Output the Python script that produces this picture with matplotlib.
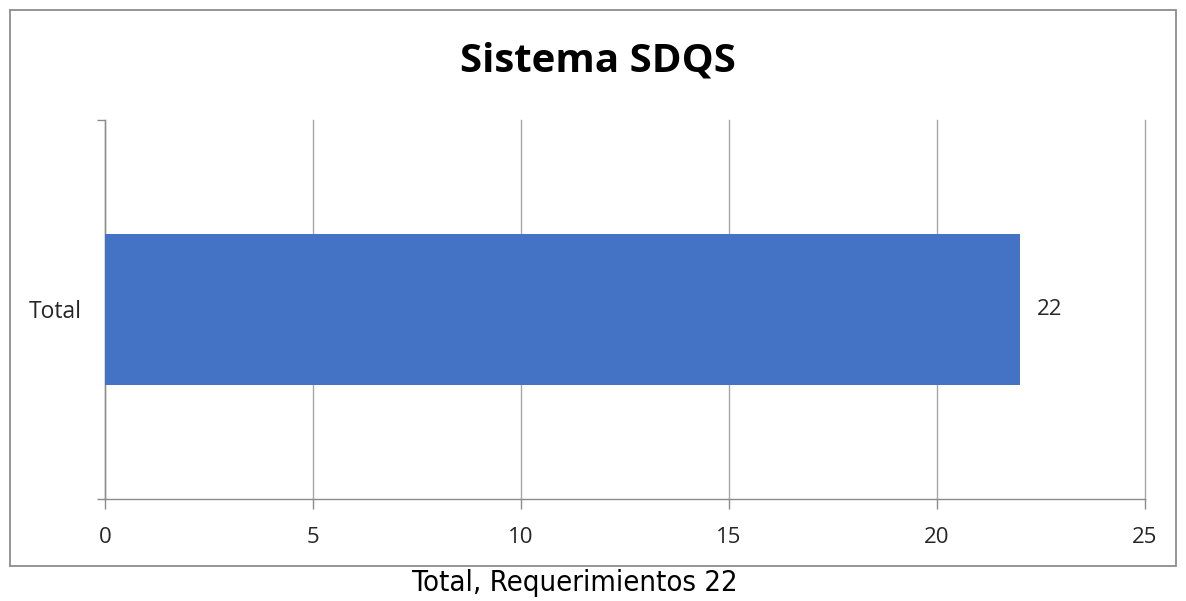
import numpy as np
import matplotlib.pyplot as plt
from matplotlib.patches import Rectangle

categories = ["Total"]
values = [22]
xticks = [0, 5, 10, 15, 20, 25]
title = "Sistema SDQS"
caption = "Total, Requerimientos 22"

fig = plt.figure(figsize=(11.86, 6.01), dpi=100)
ax = fig.add_axes([105/1186, 1-499/601, 1040/1186, 379/601])

# outer chart border
fig.patches.append(Rectangle((10/1186, 1-566/601), 1166/1186, 556/601,
                             transform=fig.transFigure, fill=False,
                             edgecolor="#8c8c8c", linewidth=1.3))

y = np.arange(len(categories))
ax.barh(y, values, height=0.4, color="#4472C4", zorder=3)
for yi, v in zip(y, values):
    ax.text(v + 0.4, yi, str(v), va="center", ha="left", fontsize=16,
            family="Open Sans", color="#262626")

ax.set_xlim(0, 25)
ax.set_ylim(-0.5, 0.5)
ax.set_xticks(xticks)
ax.set_xticklabels([str(t) for t in xticks], family="Open Sans", fontsize=16, color="#262626")
ax.tick_params(axis="x", length=7, color="#8c8c8c", width=1, pad=13)

ax.set_yticks([-0.5, 0.5])
ax.set_yticklabels([])
ax.set_yticks(y, minor=True)
ax.set_yticklabels(categories, minor=True, family="Open Sans", fontsize=16.5, color="#262626")
ax.tick_params(axis="y", which="major", length=6, color="#8c8c8c", width=1)
ax.tick_params(axis="y", which="minor", length=0, pad=17)

ax.grid(axis="x", color="#a6a6a6", linewidth=1, zorder=0)
for gl in ax.get_xgridlines():
    gl.set_clip_on(False)
for s in ["top", "right"]:
    ax.spines[s].set_visible(False)
for s in ["left", "bottom"]:
    ax.spines[s].set_color("#8c8c8c")
    ax.spines[s].set_linewidth(1)

fig.text(598/1186, 1-61/601, title, ha="center", va="center", fontsize=29,
         fontweight="bold", family="Open Sans", color="black")
fig.text(575/1186, 1-583/601, caption, ha="center", va="center", fontsize=21,
         family="DejaVu Sans", fontstretch="condensed", color="black")

fig.savefig("out.png", dpi=100)
